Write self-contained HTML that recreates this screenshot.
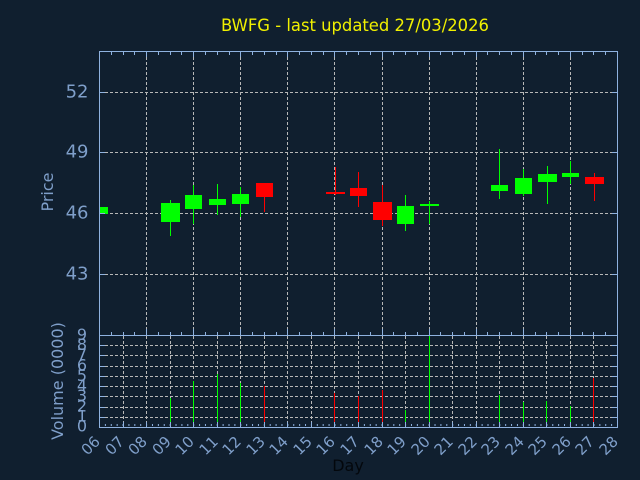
<!DOCTYPE html>
<html><head><meta charset="utf-8"><style>
html,body{margin:0;padding:0;background:#101f2f;}
svg{display:block;}
text{font-family:"DejaVu Sans","Liberation Sans",sans-serif;}
</style></head><body>
<svg width="640" height="480" viewBox="0 0 640 480" xmlns="http://www.w3.org/2000/svg">
<rect width="640" height="480" fill="#101f2f"/>
<text x="355" y="31" font-size="16.4" fill="#f0f000" text-anchor="middle">BWFG - last updated 27/03/2026</text>

<!-- price grid -->
<g stroke="#b8b8b8" stroke-width="1" stroke-dasharray="3 2" fill="none">
<path d="M100 92.5H617M100 152.5H617M100 213.5H617M100 274.5H617"/>
<path d="M146.5 52V335M193.5 52V335M240.5 52V335M287.5 52V335M334.5 52V335M382.5 52V335M429.5 52V335M476.5 52V335M523.5 52V335M570.5 52V335"/>
<!-- volume grid -->
<path d="M100 345.5H617M100 355.5H617M100 366.5H617M100 376.5H617M100 386.5H617M100 396.5H617M100 407.5H617M100 417.5H617"/>
<path d="M123.5 336V427M146.5 336V427M170.5 336V427M193.5 336V427M217.5 336V427M240.5 336V427M264.5 336V427M287.5 336V427M311.5 336V427M334.5 336V427M358.5 336V427M382.5 336V427M405.5 336V427M429.5 336V427M452.5 336V427M476.5 336V427M499.5 336V427M523.5 336V427M546.5 336V427M570.5 336V427M593.5 336V427"/>
</g>

<!-- wicks -->
<g fill="#00ff00">
<rect x="170" y="200" width="1" height="36"/>
<rect x="193" y="185" width="1" height="39"/>
<rect x="217" y="184" width="1" height="31"/>
<rect x="240" y="187" width="1" height="30"/>
<rect x="405" y="195" width="1" height="36"/>
<rect x="429" y="201" width="1" height="23"/>
<rect x="499" y="149" width="1" height="50"/>
<rect x="523" y="169" width="1" height="27"/>
<rect x="547" y="166" width="1" height="38"/>
<rect x="570" y="161" width="1" height="23"/>
</g>
<g fill="#ff0000">
<rect x="264" y="183" width="1" height="29"/>
<rect x="335" y="167" width="1" height="28"/>
<rect x="358" y="172" width="1" height="35"/>
<rect x="382" y="185" width="1" height="41"/>
<rect x="594" y="173" width="1" height="28"/>
</g>
<!-- bodies -->
<g fill="#00ff00">
<rect x="100" y="207" width="8" height="7"/>
<rect x="161" y="203" width="19" height="19"/>
<rect x="185" y="195" width="17" height="14"/>
<rect x="209" y="199" width="17" height="6"/>
<rect x="232" y="194" width="17" height="10"/>
<rect x="397" y="206" width="17" height="18"/>
<rect x="420" y="204" width="19" height="2"/>
<rect x="491" y="185" width="17" height="6"/>
<rect x="515" y="178" width="17" height="16"/>
<rect x="538" y="174" width="19" height="8"/>
<rect x="562" y="173" width="17" height="4"/>
</g>
<g fill="#ff0000">
<rect x="256" y="183" width="17" height="14"/>
<rect x="326" y="192" width="19" height="2"/>
<rect x="350" y="188" width="17" height="8"/>
<rect x="373" y="202" width="19" height="18"/>
<rect x="585" y="177" width="19" height="7"/>
</g>

<!-- volume bars -->
<g fill="#00ff00">
<rect x="170" y="398" width="1" height="29"/>
<rect x="193" y="381" width="1" height="46"/>
<rect x="217" y="374" width="1" height="53"/>
<rect x="240" y="383" width="1" height="44"/>
<rect x="405" y="410" width="1" height="17"/>
<rect x="429" y="336" width="1" height="91"/>
<rect x="499" y="395" width="1" height="32"/>
<rect x="523" y="402" width="1" height="25"/>
<rect x="546" y="401" width="1" height="26"/>
<rect x="570" y="406" width="1" height="21"/>
</g>
<g fill="#ff0000">
<rect x="264" y="386" width="1" height="41"/>
<rect x="334" y="393" width="1" height="34"/>
<rect x="358" y="396" width="1" height="31"/>
<rect x="382" y="390" width="1" height="37"/>
<rect x="593" y="378" width="1" height="49"/>
</g>

<!-- axes -->
<g stroke="#8fb2e0" stroke-width="1" fill="none">
<rect x="99.5" y="51.5" width="518" height="376"/>
<path d="M99 335.5H618"/>
<!-- top ticks -->
<path d="M111.5 52v3M123.5 52v3M134.5 52v3M158.5 52v3M170.5 52v3M181.5 52v3M205.5 52v3M217.5 52v3M229.5 52v3M252.5 52v3M264.5 52v3M276.5 52v3M299.5 52v3M311.5 52v3M323.5 52v3M346.5 52v3M358.5 52v3M370.5 52v3M393.5 52v3M405.5 52v3M417.5 52v3M440.5 52v3M452.5 52v3M464.5 52v3M487.5 52v3M499.5 52v3M511.5 52v3M535.5 52v3M546.5 52v3M558.5 52v3M582.5 52v3M593.5 52v3M605.5 52v3"/>
<path d="M146.5 52v5M193.5 52v5M240.5 52v5M287.5 52v5M334.5 52v5M382.5 52v5M429.5 52v5M476.5 52v5M523.5 52v5M570.5 52v5"/>
<!-- price bottom ticks (upward) -->
<path d="M111.5 335v-3M123.5 335v-3M134.5 335v-3M158.5 335v-3M170.5 335v-3M181.5 335v-3M205.5 335v-3M217.5 335v-3M229.5 335v-3M252.5 335v-3M264.5 335v-3M276.5 335v-3M299.5 335v-3M311.5 335v-3M323.5 335v-3M346.5 335v-3M358.5 335v-3M370.5 335v-3M393.5 335v-3M405.5 335v-3M417.5 335v-3M440.5 335v-3M452.5 335v-3M464.5 335v-3M487.5 335v-3M499.5 335v-3M511.5 335v-3M535.5 335v-3M546.5 335v-3M558.5 335v-3M582.5 335v-3M593.5 335v-3M605.5 335v-3"/>
<path d="M146.5 335v-6M193.5 335v-6M240.5 335v-6M287.5 335v-6M334.5 335v-6M382.5 335v-6M429.5 335v-6M476.5 335v-6M523.5 335v-6M570.5 335v-6"/>
<!-- y ticks -->
<path d="M100 92.5h5M100 152.5h5M100 213.5h5M100 274.5h5M617 92.5h-5M617 152.5h-5M617 213.5h-5M617 274.5h-5"/>
<path d="M100 345.5h5M100 355.5h5M100 366.5h5M100 376.5h5M100 386.5h5M100 396.5h5M100 407.5h5M100 417.5h5M617 345.5h-5M617 355.5h-5M617 366.5h-5M617 376.5h-5M617 386.5h-5M617 396.5h-5M617 407.5h-5M617 417.5h-5"/>
<!-- vol bottom ticks -->
<path d="M123.5 427v-5M146.5 427v-5M170.5 427v-5M193.5 427v-5M217.5 427v-5M240.5 427v-5M264.5 427v-5M287.5 427v-5M311.5 427v-5M334.5 427v-5M358.5 427v-5M382.5 427v-5M405.5 427v-5M429.5 427v-5M452.5 427v-5M476.5 427v-5M499.5 427v-5M523.5 427v-5M546.5 427v-5M570.5 427v-5M593.5 427v-5"/>
</g>
<line x1="99.5" y1="425" x2="617" y2="425" stroke="#8fb2e0" stroke-width="2" stroke-dasharray="1 4.8864" stroke-dashoffset="0.5"/>

<!-- price labels -->
<g font-size="18" fill="#7f9fca" text-anchor="end">
<text x="88.5" y="97.5">52</text>
<text x="88.5" y="157.5">49</text>
<text x="88.5" y="218.5">46</text>
<text x="88.5" y="279.5">43</text>
</g>
<!-- volume labels -->
<g font-size="16" fill="#7f9fca" text-anchor="end">
<text x="87" y="431.5">0</text>
<text x="87" y="421.5">1</text>
<text x="87" y="411.5">2</text>
<text x="87" y="401">3</text>
<text x="87" y="391">4</text>
<text x="87" y="381">5</text>
<text x="87" y="370.5">6</text>
<text x="87" y="360">7</text>
<text x="87" y="350">8</text>
<text x="87" y="340">9</text>
</g>
<text transform="translate(53,192) rotate(-90)" font-size="16" fill="#7f9fca" text-anchor="middle">Price</text>
<text transform="translate(63,381) rotate(-90)" font-size="16" fill="#7f9fca" text-anchor="middle">Volume (0000)</text>

<!-- x labels -->
<g font-size="15" fill="#7f9fca" text-anchor="end">
<text transform="translate(101,442.5) rotate(-45)">06</text>
<text transform="translate(125,442.5) rotate(-45)">07</text>
<text transform="translate(148,442.5) rotate(-45)">08</text>
<text transform="translate(172,442.5) rotate(-45)">09</text>
<text transform="translate(195,442.5) rotate(-45)">10</text>
<text transform="translate(219,442.5) rotate(-45)">11</text>
<text transform="translate(242,442.5) rotate(-45)">12</text>
<text transform="translate(266,442.5) rotate(-45)">13</text>
<text transform="translate(289,442.5) rotate(-45)">14</text>
<text transform="translate(313,442.5) rotate(-45)">15</text>
<text transform="translate(336,442.5) rotate(-45)">16</text>
<text transform="translate(360,442.5) rotate(-45)">17</text>
<text transform="translate(384,442.5) rotate(-45)">18</text>
<text transform="translate(407,442.5) rotate(-45)">19</text>
<text transform="translate(431,442.5) rotate(-45)">20</text>
<text transform="translate(454,442.5) rotate(-45)">21</text>
<text transform="translate(478,442.5) rotate(-45)">22</text>
<text transform="translate(501,442.5) rotate(-45)">23</text>
<text transform="translate(525,442.5) rotate(-45)">24</text>
<text transform="translate(548,442.5) rotate(-45)">25</text>
<text transform="translate(572,442.5) rotate(-45)">26</text>
<text transform="translate(595,442.5) rotate(-45)">27</text>
<text transform="translate(619,442.5) rotate(-45)">28</text>
</g>
<text x="348" y="471" font-size="16" fill="#03070c" text-anchor="middle">Day</text>
</svg>
</body></html>
